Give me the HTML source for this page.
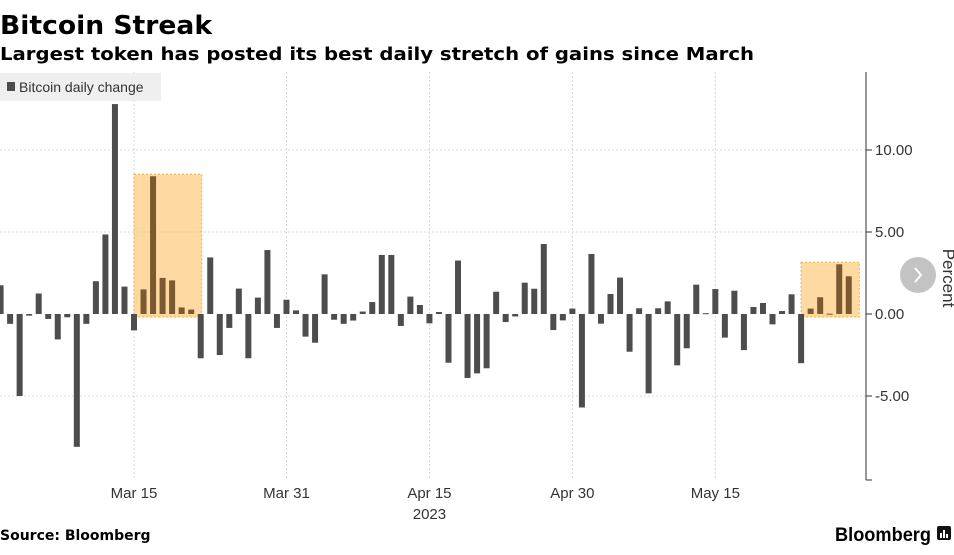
<!DOCTYPE html>
<html><head><meta charset="utf-8"><style>
html,body{margin:0;padding:0;background:#fff;width:954px;height:555px;overflow:hidden}
svg{display:block}
</style></head><body>
<svg id="chart" width="954" height="555" viewBox="0 0 954 555" font-family="'DejaVu Sans', 'Liberation Sans', sans-serif">
<text x="0" y="34" font-size="26" font-weight="bold" fill="#000" textLength="212" lengthAdjust="spacingAndGlyphs">Bitcoin Streak</text>
<text x="0" y="60" font-size="18" font-weight="bold" fill="#000" textLength="754" lengthAdjust="spacingAndGlyphs">Largest token has posted its best daily stretch of gains since March</text>
<g id="grid"></g>
<g id="highlights"></g>
<g id="bars"></g>
<g id="axes"></g>
<g>
<rect x="0" y="73" width="161" height="28" fill="#efefef"/>
<rect x="7" y="82" width="8" height="9" fill="#4d4d4d"/>
<text x="19" y="92" font-size="14" fill="#333" font-family="'Liberation Sans', sans-serif">Bitcoin daily change</text>
</g>
<text x="943" y="278" font-size="17" fill="#333" font-family="'Liberation Sans', sans-serif" text-anchor="middle" transform="rotate(90 943 278)">Percent</text>
<g>
<circle cx="918" cy="275" r="18" fill="#bdbdbd" opacity="0.9"/>
<path d="M915 268 L921 275 L915 282" stroke="#fff" stroke-width="2" fill="none"/>
</g>
<text x="0" y="540" font-size="14" font-weight="bold" fill="#000">Source: Bloomberg</text>
<text x="835" y="541" font-size="19" font-weight="bold" fill="#000" font-family="'Liberation Sans', sans-serif" textLength="96" lengthAdjust="spacingAndGlyphs">Bloomberg</text>
<g>
<rect x="937" y="526" width="14" height="14" rx="2" fill="#111"/>
<rect x="940" y="533" width="2" height="5" fill="#fff"/><rect x="943" y="530" width="2" height="8" fill="#fff"/><rect x="946" y="534" width="2" height="4" fill="#fff"/>
</g>
</svg>
<script>
const values = [1.75,-0.6,-5.0,-0.1,1.25,-0.3,-1.55,-0.2,-8.1,-0.6,2.0,4.85,12.8,1.67,-1.0,1.5,8.4,2.2,2.05,0.4,0.27,-2.7,3.45,-2.5,-0.85,1.55,-2.7,1.0,3.9,-0.85,0.87,
0.22,-1.38,-1.75,2.42,-0.35,-0.6,-0.4,0.15,0.73,3.6,3.6,-0.73,1.06,0.55,-0.57,0.12,-2.97,3.26,-3.9,-3.62,-3.31,1.36,-0.49,-0.15,1.91,1.54,4.27,-0.98,-0.39,0.33,
-5.7,3.66,-0.59,1.22,2.22,-2.3,0.35,-4.84,0.35,0.77,-3.13,-2.09,1.79,0.05,1.52,-1.44,1.42,-2.2,0.43,0.67,-0.63,0.18,1.2,-3.0,0.33,1.02,0.02,3.03,2.3];
const yTicks = [-5, 0, 5, 10];
const yTickLabels = ["-5.00","0.00","5.00","10.00"];
const xTickDays = [14, 30, 45, 60, 75];
const xTickLabels = ["Mar 15","Mar 31","Apr 15","Apr 30","May 15"];
const highlightRanges = [[15,20],[85,89]];
const yearLabel = "2023";

const NS = "http://www.w3.org/2000/svg";
const x0 = 134 - 14*9.53, dx = 9.53;
const xs = i => x0 + i*dx;
const ys = v => 314 - v*16.4;
function mk(tag, attrs, parent){const e=document.createElementNS(NS,tag);for(const k in attrs)e.setAttribute(k,attrs[k]);parent.appendChild(e);return e;}
const grid=document.getElementById('grid'), bars=document.getElementById('bars'), axes=document.getElementById('axes'), hl=document.getElementById('highlights');
yTicks.forEach((t,i)=>{
  if(t!==0){const l=mk('line',{x1:0,x2:866,y1:ys(t),y2:ys(t),stroke:'#d8d8d8','stroke-dasharray':'2,2'},grid);
  
  }
  const tk=mk('line',{x1:866,x2:872,y1:ys(t),y2:ys(t),stroke:'#333'},axes);
  
  
  const tx=mk('text',{x:875,y:ys(t)+5,'font-size':15,fill:'#333','font-family':"'Liberation Sans', sans-serif"},axes);
  tx.textContent=yTickLabels[i];
  
  
});
xTickDays.forEach((d,i)=>{
  const l=mk('line',{x1:xs(d),x2:xs(d),y1:72,y2:480,stroke:'#d8d8d8','stroke-dasharray':'2,2'},grid);
  
  
  const tx=mk('text',{x:xs(d),y:498,'font-size':15,fill:'#333','text-anchor':'middle','font-family':"'Liberation Sans', sans-serif"},axes);
  tx.textContent=xTickLabels[i];
  
  
});
const yr=mk('text',{x:xs(45),y:519,'font-size':15,fill:'#333','text-anchor':'middle','font-family':"'Liberation Sans', sans-serif"},axes);
yr.textContent=yearLabel;


const ax=mk('line',{x1:866,x2:866,y1:72,y2:480,stroke:'#333'},axes);


const ax2=mk('line',{x1:866,x2:872,y1:480,y2:480,stroke:'#333'},axes);


highlightRanges.forEach(r=>{
  let mx=Math.max(...values.slice(r[0],r[1]+1));
  const top=ys(mx)-2;
  const rc=mk('rect',{x:xs(r[0]-1),y:top,width:(r[1]-r[0]+2)*dx+1,height:ys(0)-top+3,fill:'rgba(255,192,100,0.6)',stroke:'#f0b040','stroke-dasharray':'2,2'},hl);
  
  
});
values.forEach((v,i)=>{
  const y=Math.min(ys(v),ys(0)), h=Math.max(Math.abs(ys(v)-ys(0)),1);
  const b=mk('rect',{x:xs(i)-3,y:y,width:6,height:h,fill:'#4d4d4d'},bars);
  const inHl=highlightRanges.some(r=>i>=r[0]&&i<=r[1]&&v>0);
  if(inHl)b.setAttribute('fill','#7a5a2e');
  
  
});
</script>
</body></html>
